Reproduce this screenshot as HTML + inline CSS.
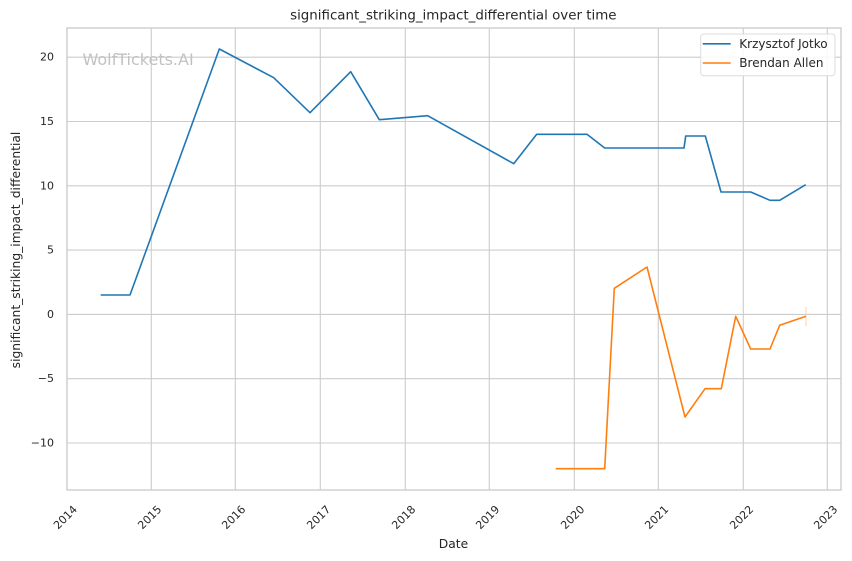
<!DOCTYPE html>
<html><head><meta charset="utf-8"><style>
html,body{margin:0;padding:0;background:#fff;}
svg{display:block;font-family:"DejaVu Sans","Liberation Sans",sans-serif;}
</style></head><body>
<svg width="852" height="561" viewBox="0 0 852 561" xmlns="http://www.w3.org/2000/svg">
<rect width="852" height="561" fill="#fff"/>
<g stroke="#cccccc" stroke-width="1.1" fill="none">
<line x1="151.3" y1="28" x2="151.3" y2="490"/>
<line x1="235.3" y1="28" x2="235.3" y2="490"/>
<line x1="320.3" y1="28" x2="320.3" y2="490"/>
<line x1="405.3" y1="28" x2="405.3" y2="490"/>
<line x1="489.3" y1="28" x2="489.3" y2="490"/>
<line x1="574.3" y1="28" x2="574.3" y2="490"/>
<line x1="658.3" y1="28" x2="658.3" y2="490"/>
<line x1="743.3" y1="28" x2="743.3" y2="490"/>
<line x1="827.3" y1="28" x2="827.3" y2="490"/>
<line x1="67" y1="57.2" x2="841" y2="57.2"/>
<line x1="67" y1="121.5" x2="841" y2="121.5"/>
<line x1="67" y1="185.8" x2="841" y2="185.8"/>
<line x1="67" y1="250.1" x2="841" y2="250.1"/>
<line x1="67" y1="314.4" x2="841" y2="314.4"/>
<line x1="67" y1="378.7" x2="841" y2="378.7"/>
<line x1="67" y1="443" x2="841" y2="443"/>
</g>
<rect x="67" y="28" width="774" height="462" fill="none" stroke="#cccccc" stroke-width="1.4"/>
<text x="82.5" y="65" font-size="16" fill="#c2c2c2">WolfTickets.AI</text>
<polyline fill="none" stroke="#1f77b4" stroke-width="1.6" stroke-linejoin="round" points="100.7,295 130,295 219.3,49 273.7,77.7 310,112.7 350.7,71.7 379.3,119.7 427.7,115.7 513.7,163.7 536.7,134.3 587,134.3 604.7,148 684,148 685.7,136 705.3,136 721,192 750.7,192 770,200.3 779.7,200.3 805.7,184.7"/>
<line x1="806" y1="307" x2="806" y2="326" stroke="#ffd2ad" stroke-width="1"/>
<polyline fill="none" stroke="#ff7f0e" stroke-width="1.6" stroke-linejoin="round" points="555.7,468.7 604.7,468.7 614.3,288.3 647,267 685,417 705,388.7 721.3,388.7 735.7,316.3 750.7,349 770,349 779.7,325.3 806,316.3"/>
<g font-size="11" fill="#262626" text-anchor="end" dominant-baseline="central">
<text x="54" y="57.2">20</text>
<text x="54" y="121.5">15</text>
<text x="54" y="185.8">10</text>
<text x="54" y="250.1">5</text>
<text x="54" y="314.4">0</text>
<text x="54" y="378.7">−5</text>
<text x="54" y="443">−10</text>
</g>
<g font-size="11" fill="#262626" text-anchor="middle" dominant-baseline="central">
<text transform="translate(65.5,517.5) rotate(-45)">2014</text>
<text transform="translate(149.8,517.5) rotate(-45)">2015</text>
<text transform="translate(233.8,517.5) rotate(-45)">2016</text>
<text transform="translate(318.8,517.5) rotate(-45)">2017</text>
<text transform="translate(403.8,517.5) rotate(-45)">2018</text>
<text transform="translate(487.8,517.5) rotate(-45)">2019</text>
<text transform="translate(572.8,517.5) rotate(-45)">2020</text>
<text transform="translate(656.8,517.5) rotate(-45)">2021</text>
<text transform="translate(741.8,517.5) rotate(-45)">2022</text>
<text transform="translate(825.8,517.5) rotate(-45)">2023</text>
</g>
<text x="453.5" y="544" font-size="12.3" fill="#262626" text-anchor="middle" dominant-baseline="central">Date</text>
<text transform="translate(16,250) rotate(-90)" font-size="12.3" fill="#262626" text-anchor="middle" dominant-baseline="central">significant_striking_impact_differential</text>
<text x="453.3" y="16" font-size="13.4" fill="#262626" text-anchor="middle" dominant-baseline="central">significant_striking_impact_differential over time</text>
<rect x="700.7" y="34" width="134.3" height="41.7" rx="3" ry="3" fill="#fff" fill-opacity="0.85" stroke="#dcdcdc" stroke-width="1"/>
<line x1="702.7" y1="43.8" x2="730.7" y2="43.8" stroke="#1f77b4" stroke-width="1.6"/>
<line x1="702.7" y1="63" x2="730.7" y2="63" stroke="#ff7f0e" stroke-width="1.6"/>
<g font-size="12" fill="#262626" dominant-baseline="central">
<text x="739.3" y="44">Krzysztof Jotko</text>
<text x="739.3" y="63.2">Brendan Allen</text>
</g>
</svg>
</body></html>
